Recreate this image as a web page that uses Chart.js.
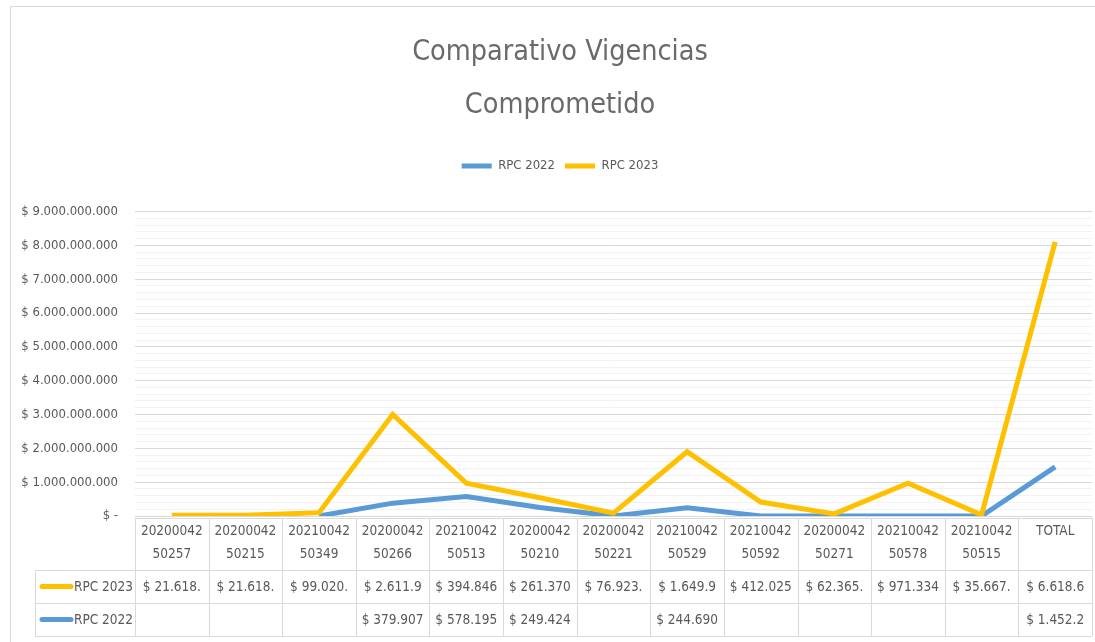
<!DOCTYPE html>
<html>
<head>
<meta charset="utf-8">
<script src="https://cdn.jsdelivr.net/npm/chart.js@4/dist/chart.umd.min.js"></script>
<style>
  html, body { margin: 0; padding: 0; background: #fff; }
  #wrap { width: 1095px; height: 642px; position: relative; }
</style>
</head>
<body>
<div id="wrap"><canvas id="c"></canvas></div>
<script>
// ---- data ----
const categories = [
  ['20200042', '50257'], ['20200042', '50215'], ['20210042', '50349'],
  ['20200042', '50266'], ['20210042', '50513'], ['20200042', '50210'],
  ['20200042', '50221'], ['20210042', '50529'], ['20210042', '50592'],
  ['20200042', '50271'], ['20210042', '50578'], ['20210042', '50515'],
  ['TOTAL']
];
const rpc2022Values = [null, null, 0, 379907000, 578195000, 249424000, 0, 244690000, 0, 0, 0, 0, 1452200000];
const rpc2023Values = [21618000, 21618000, 99020000, 3000000000, 970000000, 540000000, 85000000, 1900000000, 412025000, 62365000, 971334000, 35667000, 8100000000];
const rpc2022Text = ['', '', '', '$ 379.907', '$ 578.195', '$ 249.424', '', '$ 244.690', '', '', '', '', '$ 1.452.2'];
const rpc2023Text = ['$ 21.618.', '$ 21.618.', '$ 99.020.', '$ 2.611.9', '$ 394.846', '$ 261.370', '$ 76.923.', '$ 1.649.9', '$ 412.025', '$ 62.365.', '$ 971.334', '$ 35.667.', '$ 6.618.6'];
const seriesNames = ['RPC 2022', 'RPC 2023'];
const seriesColors = ['#5B9BD5', '#FFC000'];
const titleLines = ['Comparativo Vigencias', 'Comprometido'];

const FONT = "'DejaVu Sans Condensed', 'Liberation Sans Narrow', sans-serif";
const TXT = '#595959';
const GRID = '#d9d9d9';

function money(v) {
  if (v === 0) return '$ -';
  return '$ ' + String(Math.round(v)).replace(/\B(?=(\d{3})+(?!\d))/g, '.');
}

const framePlugin = {
  id: 'frame',
  beforeDraw(chart) {
    const c = chart.ctx;
    c.save();
    c.fillStyle = '#fff';
    c.fillRect(0, 0, chart.width, chart.height);
    c.strokeStyle = GRID;
    c.lineWidth = 1;
    c.beginPath();
    c.moveTo(10.5, chart.height);
    c.lineTo(10.5, 6.5);
    c.lineTo(chart.width, 6.5);
    c.stroke();
    c.restore();
  }
};

const legendGap = {
  id: 'legendGap',
  beforeLayout(chart) {
    const lg = chart.legend;
    if (lg && !lg._patched) {
      const fit = lg.fit;
      lg.fit = function () { fit.call(this); this.height += 29; };
      lg._patched = true;
    }
  },
  afterLayout(chart) {
    // center title and legend over the frame (shifted right like the original)
    [chart.titleBlock, chart.legend].forEach(b => {
      if (b) { b.left += 9; b.right += 9; }
    });
  }
};

const tablePlugin = {
  id: 'dataTable',
  afterDraw(chart) {
    const c = chart.ctx;
    const xs = chart.scales.x;
    const area = chart.chartArea;
    const n = categories.length;
    const w = (area.right - area.left) / n;
    const top = area.bottom + 2;
    const r1 = 570, r2 = 603, r3 = 636;
    const legendLeft = 35;
    c.save();
    c.strokeStyle = GRID;
    c.lineWidth = 1;
    c.beginPath();
    c.moveTo(area.left, top + 0.5); c.lineTo(area.right, top + 0.5);
    [r1, r2, r3].forEach(y => { c.moveTo(legendLeft, y + 0.5); c.lineTo(area.right, y + 0.5); });
    for (let i = 0; i <= n; i++) {
      const x = Math.round(area.left + i * w) + 0.5;
      c.moveTo(x, top); c.lineTo(x, r3);
    }
    c.moveTo(legendLeft + 0.5, r1); c.lineTo(legendLeft + 0.5, r3);
    c.stroke();

    c.font = '13.5px ' + FONT;
    c.fillStyle = TXT;
    c.textAlign = 'center';
    c.textBaseline = 'middle';
    const rows = [[rpc2023Text, (r1 + r2) / 2], [rpc2022Text, (r2 + r3) / 2]];
    rows.forEach(([arr, y]) => {
      arr.forEach((t, i) => {
        if (t) c.fillText(t, xs.getPixelForValue(i), y + 1);
      });
    });
    // row keys
    const keys = [[seriesNames[1], seriesColors[1], (r1 + r2) / 2], [seriesNames[0], seriesColors[0], (r2 + r3) / 2]];
    keys.forEach(([name, col, y]) => {
      c.strokeStyle = col;
      c.lineWidth = 5;
      c.lineCap = 'round';
      c.beginPath();
      c.moveTo(42, y); c.lineTo(71, y);
      c.stroke();
      c.fillStyle = TXT;
      c.textAlign = 'right';
      c.fillText(name, 133, y + 1);
    });
    c.restore();
  }
};

new Chart(document.getElementById('c'), {
  type: 'line',
  data: {
    labels: categories,
    datasets: [
      {
        label: seriesNames[0], data: rpc2022Values,
        borderColor: seriesColors[0], backgroundColor: seriesColors[0],
        borderWidth: 5, pointRadius: 0, tension: 0, order: 1, spanGaps: false
      },
      {
        label: seriesNames[1], data: rpc2023Values,
        borderColor: seriesColors[1], backgroundColor: seriesColors[1],
        borderWidth: 5, pointRadius: 0, tension: 0, order: 0
      }
    ]
  },
  options: {
    responsive: true,
    maintainAspectRatio: false,
    animation: false,
    events: [],
    layout: { padding: { top: 0, left: 10, right: 3, bottom: 72 } },
    plugins: {
      title: {
        display: true,
        text: titleLines,
        color: '#6a6a6a',
        font: { family: FONT, size: 28.5, weight: 'normal', lineHeight: 1.86 },
        padding: { top: 26, bottom: 17.5 }
      },
      legend: {
        display: true,
        position: 'top',
        labels: {
          color: TXT,
          font: { family: FONT, size: 13 },
          boxWidth: 30,
          boxHeight: 5,
          padding: 10,
          sort: (a, b) => a.datasetIndex - b.datasetIndex,
          generateLabels(chart) {
            const items = Chart.defaults.plugins.legend.labels.generateLabels(chart);
            items.forEach(it => { it.lineWidth = 0; it.fillStyle = it.strokeStyle; });
            return items;
          }
        }
      },
      tooltip: { enabled: false }
    },
    scales: {
      x: {
        offset: true,
        grid: { display: false, drawTicks: false },
        border: { display: false },
        ticks: {
          color: TXT,
          font: { family: FONT, size: 13.5, lineHeight: 1.7 },
          autoSkip: false, maxRotation: 0, minRotation: 0, padding: 4
        },
        afterFit(s) { s.height = 54; }
      },
      y: {
        min: 0, max: 9000000000,
        border: { display: false },
        grid: {
          drawTicks: false,
          color: ctx => (ctx.tick && Math.round(ctx.tick.value / 1e8) % 10 === 0) ? GRID : '#f2f2f2',
          lineWidth: 1
        },
        ticks: {
          stepSize: 200000000,
          maxTicksLimit: 100,
          autoSkip: false,
          padding: 17,
          color: TXT,
          font: { family: FONT, size: 13 },
          callback: v => (Math.round(v / 1e8) % 10 === 0) ? money(v) : ''
        },
        afterFit(s) { s.width = 125; }
      }
    }
  },
  plugins: [framePlugin, legendGap, tablePlugin]
});
</script>
</body>
</html>
